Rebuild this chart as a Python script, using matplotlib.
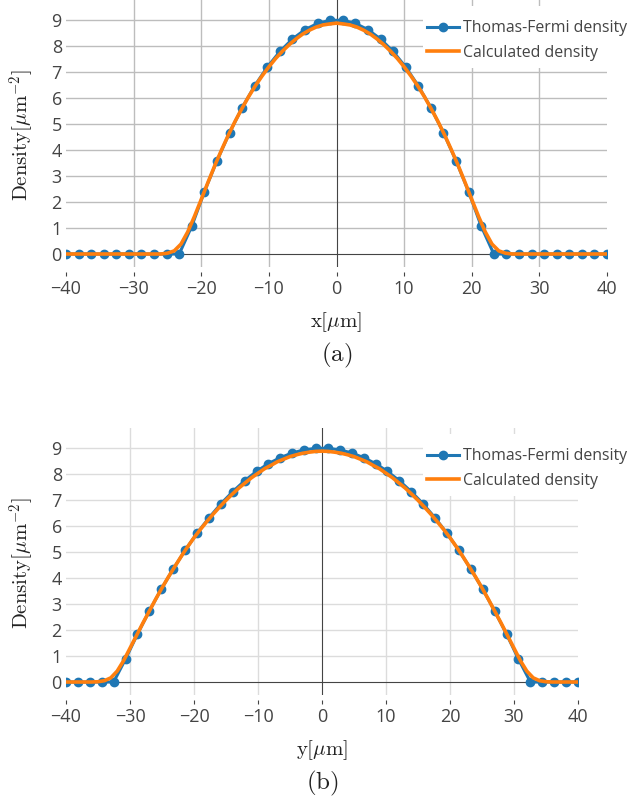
import numpy as np
import matplotlib.pyplot as plt
from matplotlib.patches import Rectangle

plt.rcParams['font.family'] = ['Open Sans', 'DejaVu Sans']
plt.rcParams['mathtext.fontset'] = 'cm'

# sample positions of the Thomas-Fermi profile (same grid for both cuts)
grid = [-40.00, -38.14, -36.28, -34.42, -32.56, -30.70, -28.84, -26.98, -25.12, -23.26, -21.40,
        -19.53, -17.67, -15.81, -13.95, -12.09, -10.23, -8.37, -6.51, -4.65, -2.79, -0.93,
        0.93, 2.79, 4.65, 6.51, 8.37, 10.23, 12.09, 13.95, 15.81, 17.67, 19.53,
        21.40, 23.26, 25.12, 26.98, 28.84, 30.70, 32.56, 34.42, 36.28, 38.14, 40.00]

tf_x = [0, 0, 0, 0, 0, 0, 0, 0, 0, 0, 1.07, 2.40, 3.59, 4.67, 5.63, 6.47, 7.19, 7.79, 8.27, 8.63, 8.87, 8.99,
        8.99, 8.87, 8.63, 8.27, 7.79, 7.19, 6.47, 5.63, 4.67, 3.59, 2.40, 1.07, 0, 0, 0, 0, 0, 0, 0, 0, 0, 0]

tf_y = [0, 0, 0, 0, 0, 0.88, 1.84, 2.73, 3.57, 4.34, 5.06, 5.72, 6.31, 6.85, 7.32, 7.74, 8.10, 8.40, 8.63, 8.81, 8.93, 8.99,
        8.99, 8.93, 8.81, 8.63, 8.40, 8.10, 7.74, 7.32, 6.85, 6.31, 5.72, 5.06, 4.34, 3.57, 2.73, 1.84, 0.88, 0, 0, 0, 0, 0]

# numerically calculated profile, 1 um steps
pos = list(range(-40, 41))

calc_x = [0, 0, 0, 0, 0, 0, 0, 0, 0, 0, 0, 0, 0, 0, 0,
          0.03, 0.12, 0.38, 0.85, 1.45, 2.10, 2.76, 3.40, 4.00, 4.57, 5.10, 5.59, 6.05, 6.47, 6.85,
          7.20, 7.52, 7.80, 8.05, 8.27, 8.46, 8.61, 8.73, 8.81, 8.85,
          8.88,
          8.85, 8.81, 8.73, 8.61, 8.46, 8.27, 8.05, 7.80, 7.52, 7.20,
          6.85, 6.47, 6.05, 5.59, 5.10, 4.57, 4.00, 3.40, 2.76, 2.10, 1.45, 0.85, 0.38, 0.12, 0.03,
          0, 0, 0, 0, 0, 0, 0, 0, 0, 0, 0, 0, 0, 0, 0]

calc_y = [0, 0, 0, 0, 0,
          0.01, 0.05, 0.16, 0.42, 0.82, 1.30, 1.78, 2.26, 2.72, 3.18, 3.62, 4.04, 4.44, 4.83, 5.20,
          5.55, 5.87, 6.17, 6.46, 6.73, 6.99, 7.23, 7.46, 7.66, 7.86, 8.03, 8.20, 8.33, 8.47, 8.57,
          8.67, 8.74, 8.80, 8.84, 8.87,
          8.88,
          8.87, 8.84, 8.80, 8.74, 8.67, 8.57, 8.47, 8.33, 8.20, 8.03, 7.86, 7.66, 7.46, 7.23, 6.99,
          6.73, 6.46, 6.17, 5.87, 5.55, 5.20, 4.83, 4.44, 4.04, 3.62, 3.18, 2.72, 2.26, 1.78, 1.30,
          0.82, 0.42, 0.16, 0.05, 0.01,
          0, 0, 0, 0, 0]

xticks = [-40, -30, -20, -10, 0, 10, 20, 30, 40]
yticks = [0, 1, 2, 3, 4, 5, 6, 7, 8, 9]

W, H = 629, 801
fig = plt.figure(figsize=(W / 100, H / 100), dpi=100)

panels = [
    # left, top, right, bottom (pixels), data, grid colour, axis name, tag
    ((66, 0, 607, 267), tf_x, calc_x, '#bdbdbd', 'x', 'a'),
    ((66, 428, 578, 695), tf_y, calc_y, '#dcdcdc', 'y', 'b'),
]

for (l, t, r, b), tf, calc, gcol, name, tag in panels:
    ax = fig.add_axes([l / W, 1 - b / H, (r - l) / W, (b - t) / H])
    ax.set_xlim(-40, 40)
    ax.set_ylim(-0.5, 9.77)

    for xv in xticks[1:-1]:
        if xv != 0:
            ax.axvline(xv, color=gcol, lw=1.0, zorder=1)
    for yv in yticks[1:]:
        ax.axhline(yv, color=gcol, lw=1.0, zorder=1)
    ax.axhline(0, color='#444444', lw=0.8, zorder=2)
    ax.axvline(0, color='#444444', lw=0.8, zorder=2)

    ax.plot(grid, tf, '-o', color='#1f77b4', lw=2.2, ms=6, zorder=3, label='Thomas-Fermi density')
    ax.plot(pos, calc, '-', color='#ff7f0e', lw=2.6, zorder=4, label='Calculated density')

    for s in ax.spines.values():
        s.set_visible(False)
    ax.spines['bottom'].set_position(('outward', 3.6))
    ax.set_xticks(xticks)
    ax.set_yticks(yticks)
    ax.tick_params(axis='x', length=3, width=0.8, color='#444444', pad=3,
                   labelsize=13, labelcolor='#444444')
    ax.tick_params(axis='y', length=0, pad=3, labelsize=13, labelcolor='#444444')

    # white legend background hiding the grid behind it
    ax.add_patch(Rectangle((423 / W, 1 - (t + 68) / H), (W - 423) / W, 62 / H,
                           transform=fig.transFigure, facecolor='white', edgecolor='none',
                           clip_on=False, zorder=2.5))
    leg = ax.legend(loc='upper left', bbox_to_anchor=(420.5 / W, 1 - (t + 14) / H),
                    bbox_transform=fig.transFigure, frameon=False, fontsize=11.4,
                    handlelength=2.0, handletextpad=0.3, borderpad=0.4,
                    labelspacing=0.52, borderaxespad=0)
    for txt in leg.get_texts():
        txt.set_color('#444444')

    cx = (l + r) / 2 / W
    fig.text(cx, 1 - (b + 55) / H, r'$\mathrm{%s}[\mu\mathrm{m}]$' % name,
             ha='center', va='center', fontsize=15, color='#222222')
    fig.text(cx, 1 - (b + 88) / H, r'$(\mathrm{%s})$' % tag,
             ha='center', va='center', fontsize=18, color='#222222')
    fig.text(22 / W, 1 - (t + 135) / H, r'$\mathrm{Density}[\mu\mathrm{m}^{-2}]$',
             ha='center', va='center', rotation=90, fontsize=15, color='#222222')

fig.savefig('out.png', dpi=100)
